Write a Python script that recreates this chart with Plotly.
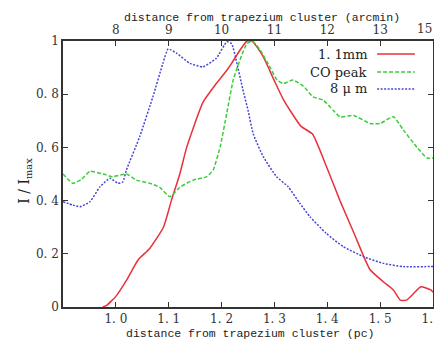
import plotly.graph_objects as go

# 1.1mm continuum
red_x = [0.975, 0.982, 1.0, 1.02, 1.042, 1.064, 1.09, 1.105, 1.121, 1.134, 1.165, 1.19, 1.21, 1.219,
         1.235, 1.248, 1.258, 1.279, 1.30, 1.317, 1.35, 1.372, 1.398, 1.424, 1.45, 1.469, 1.481,
         1.506, 1.525, 1.538, 1.55, 1.563, 1.577, 1.596, 1.6]
red_y = [0.0, 0.005, 0.04, 0.10, 0.177, 0.22, 0.30, 0.40, 0.50, 0.60, 0.77, 0.84, 0.89, 0.916,
         0.966, 1.0, 1.0, 0.94, 0.85, 0.78, 0.68, 0.65, 0.53, 0.40, 0.28, 0.19, 0.14,
         0.095, 0.064, 0.026, 0.026, 0.05, 0.076, 0.064, 0.055]

# CO peak
co_x = [0.9, 0.919, 0.935, 0.951, 0.976, 0.994, 1.02, 1.039, 1.064, 1.083, 1.102, 1.121, 1.146,
        1.172, 1.184, 1.197, 1.21, 1.222, 1.235, 1.248, 1.258, 1.273, 1.292, 1.305, 1.317, 1.335,
        1.355, 1.373, 1.392, 1.411, 1.424, 1.45, 1.481, 1.50, 1.525, 1.544, 1.57, 1.589, 1.6]
co_y = [0.50, 0.465, 0.48, 0.51, 0.50, 0.49, 0.50, 0.477, 0.465, 0.45, 0.415, 0.45, 0.477,
        0.49, 0.515, 0.60, 0.73, 0.853, 0.93, 0.99, 1.0, 0.966, 0.90, 0.853, 0.84, 0.853,
        0.83, 0.79, 0.778, 0.74, 0.715, 0.72, 0.69, 0.69, 0.715, 0.665, 0.60, 0.56, 0.56]

# 8 micron
ir_x = [0.9, 0.919, 0.932, 0.951, 0.97, 0.989, 1.004, 1.013, 1.02, 1.045, 1.07, 1.089, 1.099,
        1.115, 1.14, 1.165, 1.19, 1.21, 1.219, 1.229, 1.24, 1.25, 1.26, 1.279, 1.304, 1.326,
        1.348, 1.367, 1.398, 1.43, 1.469, 1.506, 1.544, 1.596, 1.6]
ir_y = [0.396, 0.383, 0.377, 0.396, 0.452, 0.484, 0.465, 0.47, 0.515, 0.64, 0.79, 0.916, 0.97,
        0.954, 0.916, 0.903, 0.935, 0.997, 0.99, 0.916, 0.82, 0.74, 0.65, 0.565, 0.49, 0.452,
        0.39, 0.34, 0.277, 0.227, 0.189, 0.164, 0.152, 0.152, 0.152]

pc_ticks = [1.0, 1.1, 1.2, 1.3, 1.4, 1.5, 1.6]
pc_labels = ["1. 0", "1. 1", "1. 2", "1. 3", "1. 4", "1. 5", "1. 6"]
arcmin_labels = ["8", "9", "10", "11", "12", "13", "15"]
y_ticks = [0, 0.2, 0.4, 0.6, 0.8, 1.0]
y_labels = ["0", "0. 2", "0. 4", "0. 6", "0. 8", "1"]

legend_names = ["1. 1mm", "CO peak", "8 \u03bc m"]
colors = ["#e8303a", "#3ccc3c", "#4646d2"]
dashes = ["solid", "4px,2px", "2px,1.5px"]

fig = go.Figure()
for xs, ys, c, d, n in [(red_x, red_y, colors[0], dashes[0], legend_names[0]),
                        (co_x, co_y, colors[1], dashes[1], legend_names[1]),
                        (ir_x, ir_y, colors[2], dashes[2], legend_names[2])]:
    fig.add_trace(go.Scatter(x=xs, y=ys, mode="lines", name=n, showlegend=False,
                             line=dict(color=c, width=1.5, dash=d, shape="spline", smoothing=0.5)))

# invisible trace to activate top axis
fig.add_trace(go.Scatter(x=red_x, y=red_y, xaxis="x2", mode="lines", opacity=0,
                         showlegend=False, hoverinfo="skip", line=dict(width=0)))

tick_font = dict(family="DejaVu Serif", size=12, color="#333")
title_font = dict(family="Liberation Mono", size=11.5, color="#222")

# page body has an 8px margin: size figure so page fits the window without overflow
fig.update_layout(
    width=426, height=331,
    margin=dict(l=55, r=1, t=33, b=32),
    paper_bgcolor="white", plot_bgcolor="white",
    xaxis=dict(range=[0.9, 1.6], tickvals=pc_ticks, ticktext=pc_labels, ticks="inside",
               ticklen=5, tickcolor="#333", showline=True, linecolor="#333", linewidth=1.5,
               mirror=True, showgrid=False, zeroline=False, tickfont=tick_font, automargin=False,
               ticklabeloverflow="allow"),
    xaxis2=dict(range=[0.9, 1.6], overlaying="x", side="top", tickvals=pc_ticks[:-1],
                ticktext=arcmin_labels[:-1], ticks="inside", ticklen=5, tickcolor="#333",
                showgrid=False, zeroline=False, tickfont=tick_font, automargin=False,
                ticklabeloverflow="allow", ticklabelstandoff=4),
    yaxis=dict(range=[0, 1], tickvals=y_ticks, ticktext=y_labels, ticks="inside", ticklen=5,
               tickcolor="#333", showline=True, linecolor="#333", linewidth=1.5, mirror="ticks",
               showgrid=False, zeroline=False, tickfont=tick_font, automargin=False),
)

# last top-axis label, at the right end of the axis (paper x=1 is 1.6 pc)
fig.add_annotation(x=1, y=1, xref="paper", yref="paper", yshift=12, xshift=1, showarrow=False,
                   text=arcmin_labels[-1], font=tick_font, xanchor="right", yanchor="middle")

# axis titles
fig.add_annotation(x=0.505, y=0, xref="paper", yref="paper", yshift=-26, showarrow=False,
                   text="distance from trapezium cluster (pc)", font=title_font,
                   xanchor="center", yanchor="middle")
fig.add_annotation(x=0.538, y=1, xref="paper", yref="paper", yshift=24, showarrow=False,
                   text="distance from trapezium cluster (arcmin)", font=title_font,
                   xanchor="center", yanchor="middle")
fig.add_annotation(x=0, y=0.475, xref="paper", yref="paper", xshift=-38, showarrow=False,
                   text="I / I<sub>max</sub>", textangle=-90,
                   font=dict(family="DejaVu Serif", size=14, color="#222"),
                   xanchor="center", yanchor="middle")

# custom legend (text left of sample line)
leg_y = [0.951, 0.883, 0.820]
for n, c, d, yy in zip(legend_names, colors, dashes, leg_y):
    fig.add_annotation(x=0.828, y=yy, xref="paper", yref="paper", text=n, showarrow=False,
                       xanchor="right", yanchor="middle",
                       font=dict(family="DejaVu Serif", size=13, color="#222"))
    fig.add_shape(type="line", xref="paper", yref="paper", x0=0.849, x1=0.951, y0=yy, y1=yy,
                  line=dict(color=c, width=1.5, dash=d))

fig.write_html("out.html")
